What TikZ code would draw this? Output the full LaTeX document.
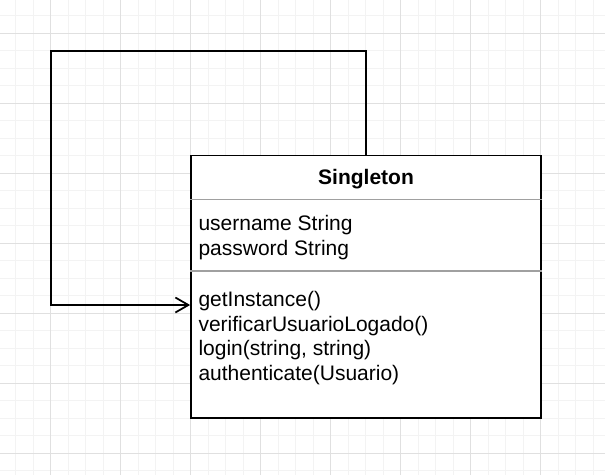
\documentclass[tikz,border=0pt]{standalone}
\usepackage{fontspec}
\setmainfont{Liberation Sans}
\usetikzlibrary{arrows.meta}

\definecolor{gridminor}{RGB}{243,243,243}
\definecolor{gridmajor}{RGB}{224,224,224}
\definecolor{sepgray}{RGB}{160,160,160}

\tikzset{
  classbox/.style={draw, line width=1.75pt, fill=white, minimum width=350pt, minimum height=262.5pt, inner sep=0pt},
  member/.style={anchor=base west, inner sep=0pt, align=left, font=\fontsize{21}{24.6}\selectfont},
  assoc/.style={line width=1.75pt, -{Straight Barb[length=13pt, width=15pt, line width=1.75pt]}}
}

\begin{document}
\begin{tikzpicture}[x=1pt, y=-1pt]

\useasboundingbox (0,0) rectangle (605,475);
\fill[white] (0,0) rectangle (605,475);

% Background grid
\foreach \i in {0,...,33}
  \draw[gridminor, line width=1pt] ({15.7+17.5*\i},0) -- ++(0,475);
\foreach \i in {0,...,26}
  \draw[gridminor, line width=1pt] (0,{15.5+17.5*\i}) -- ++(605,0);
\foreach \i in {0,...,7}
  \draw[gridmajor, line width=1pt] ({50.7+70*\i},0) -- ++(0,475);
\foreach \i in {0,...,6}
  \draw[gridmajor, line width=1pt] (0,{33+70*\i}) -- ++(605,0);

% Class box
\node[classbox] (singleton) at (366,286.75) {};

% Compartments
\draw[sepgray, line width=1.5pt] (singleton.west |- 0,199.3) -- (singleton.east |- 0,199.3);
\draw[sepgray, line width=1.5pt] (singleton.west |- 0,271) -- (singleton.east |- 0,271);

% Name, attributes and operations (base = last line)
\node[anchor=base, inner sep=0pt, font=\fontsize{21}{25}\selectfont\bfseries] (name) at (366,184) {Singleton};
\node[member] (attrs) at (198.3,255.3) {username String\\password String};
\node[member] (ops) at (198.3,380.5) {getInstance()\\verificarUsuarioLogado()\\login(string, string)\\authenticate(Usuario)};

% Self association
\coordinate (loopcorner) at (51,51.3);
\coordinate (loopend) at (singleton.west |- 0,305);
\draw[assoc] (singleton.north) |- (loopcorner) |- (loopend);

\end{tikzpicture}
\end{document}
